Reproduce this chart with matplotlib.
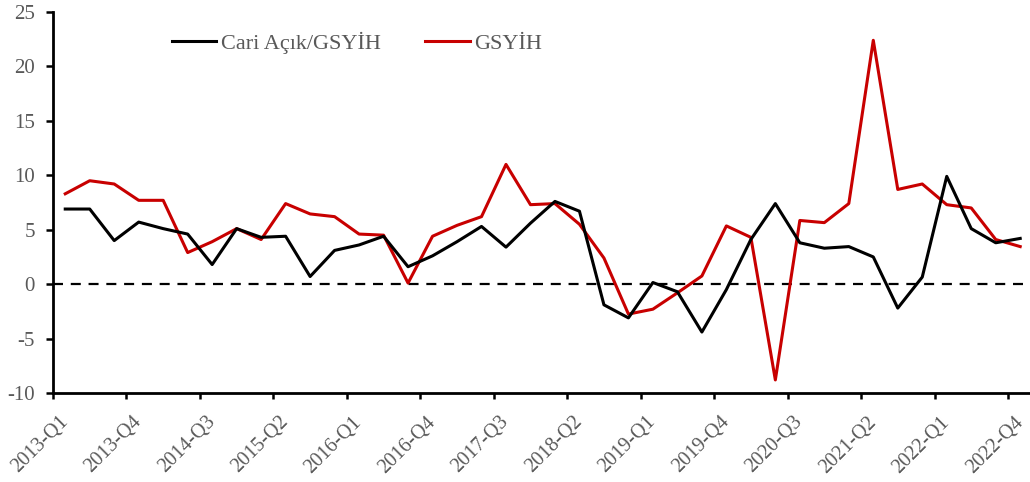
import matplotlib
matplotlib.use("Agg")
import matplotlib.pyplot as plt
from matplotlib.ticker import FixedLocator

quarters = [f"{y}-Q{q}" for y in range(2013, 2023) for q in range(1, 5)]

cari_acik = [6.9, 6.9, 4.0, 5.7, 5.1, 4.6, 1.8, 5.1, 4.3, 4.4,
             0.7, 3.1, 3.6, 4.4, 1.6, 2.6, 3.9, 5.3, 3.4, 5.6,
             7.6, 6.7, -1.9, -3.1, 0.15, -0.7, -4.4, -0.5, 4.1, 7.4,
             3.8, 3.3, 3.45, 2.5, -2.2, 0.65, 9.9, 5.1, 3.8, 4.2]

gsyih = [8.3, 9.5, 9.2, 7.7, 7.7, 2.9, 3.9, 5.1, 4.1, 7.4,
         6.45, 6.2, 4.6, 4.5, 0.1, 4.4, 5.4, 6.2, 11.0, 7.3,
         7.4, 5.5, 2.4, -2.75, -2.3, -0.8, 0.75, 5.35, 4.3, -8.8,
         5.85, 5.65, 7.4, 22.4, 8.7, 9.2, 7.3, 7.0, 4.1, 3.45]

series_names = ["Cari Açık/GSYİH", "GSYİH"]
y_ticks = [-10, -5, 0, 5, 10, 15, 20, 25]

plt.rcParams['font.family'] = ['Liberation Serif', 'DejaVu Serif']
gray = '#595959'

fig = plt.figure(figsize=(10.30, 4.82), dpi=100)
ax = fig.add_axes([53/1030, 1-393/482, 1-53/1030, (393-12)/482])

x = list(range(len(quarters)))
ax.axhline(0, color='black', lw=1.6, ls=(0, (4.5, 3.5)), zorder=1)
ax.plot(x, cari_acik, color='black', lw=2.2, label=series_names[0], zorder=3)
ax.plot(x, gsyih, color='#C80000', lw=2.2, label=series_names[1], zorder=2)

ax.set_xlim(-0.5, 39.4)
ax.set_ylim(-10, 25)
ax.set_yticks(y_ticks)
ax.set_yticklabels([str(v) for v in y_ticks])

major = [i - 0.5 for i in range(0, len(quarters), 3)]
minor = list(range(0, len(quarters), 3))
ax.xaxis.set_major_locator(FixedLocator(major))
ax.set_xticklabels([''] * len(major))
ax.xaxis.set_minor_locator(FixedLocator(minor))
ax.set_xticklabels([quarters[i] for i in minor], minor=True,
                   rotation=45, ha='right', va='center', rotation_mode='anchor')

for s in ['top', 'right']:
    ax.spines[s].set_visible(False)
for s in ['left', 'bottom']:
    ax.spines[s].set_linewidth(2.0)
    ax.spines[s].set_color('black')

ax.tick_params(axis='y', direction='out', length=5, width=1.8, labelsize=15,
               labelcolor=gray, pad=8)
ax.tick_params(axis='x', which='major', direction='out', length=4, width=1.8)
ax.tick_params(axis='x', which='minor', length=0, labelsize=14.5, labelcolor=gray, pad=19)

leg = ax.legend(loc='center left', bbox_to_anchor=(172/1030, 1-43/482),
                bbox_transform=fig.transFigure, ncol=2, frameon=False,
                fontsize=16, handlelength=2.0, handletextpad=0.2,
                columnspacing=2.0, borderpad=0, borderaxespad=0)
for t in leg.get_texts():
    t.set_color(gray)

fig.savefig('out.png', dpi=100)
